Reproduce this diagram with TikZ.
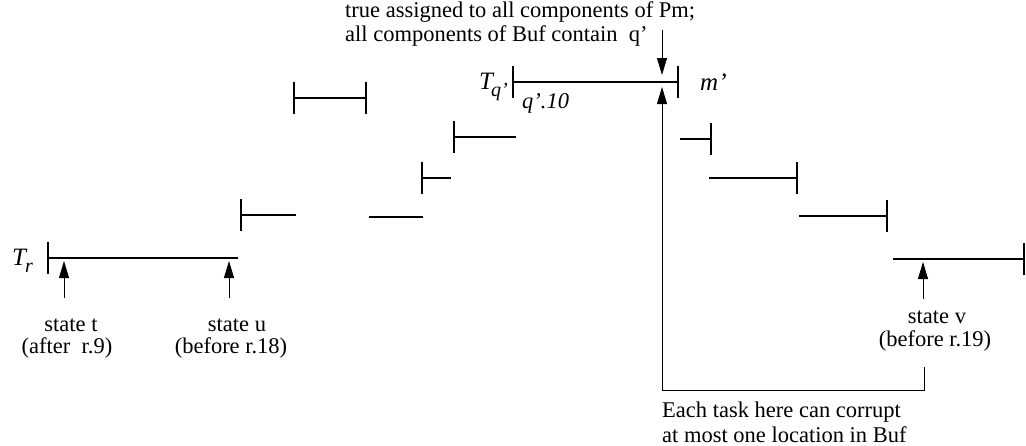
\documentclass[tikz,border=0pt]{standalone}
\usepackage{fontspec}
\setmainfont{Liberation Serif}
\usetikzlibrary{arrows.meta}
\begin{document}
\begin{tikzpicture}[x=1pt,y=-1pt,
  seg/.style={line width=1.8pt},
  thinline/.style={line width=0.9pt},
  arr/.style={thinline,-{Triangle[length=17pt,width=10pt]}},
  lbl/.style={inner sep=0pt, font=\fontsize{22.5}{24}\selectfont},
  big/.style={inner sep=0pt, font=\fontsize{25}{25}\selectfont\itshape},
]
\useasboundingbox (0,0) rectangle (1026,445);
\newcommand\tickat[1]{\draw[seg] ([yshift=16pt]#1) -- ([yshift=-16pt]#1);}

% segments
\coordinate (r0) at (48,258);   \coordinate (r1) at (238,258);
\coordinate (a0) at (241,215);  \coordinate (a1) at (296,215);
\coordinate (b0) at (369,217);  \coordinate (b1) at (423,217);
\coordinate (c0) at (422,178);  \coordinate (c1) at (451,178);
\coordinate (d0) at (454,137);  \coordinate (d1) at (516,137);
\coordinate (e0) at (294,98);   \coordinate (e1) at (366,98);
\coordinate (q0) at (513,82);   \coordinate (q1) at (678,82);
\coordinate (f0) at (680,139);  \coordinate (f1) at (711,139);
\coordinate (g0) at (709,178);  \coordinate (g1) at (797,178);
\coordinate (h0) at (799,216);  \coordinate (h1) at (887,216);
\coordinate (k0) at (893,259);  \coordinate (k1) at (1024,259);

\foreach \s in {r,a,b,c,d,e,q,f,g,h,k}{\draw[seg] (\s0) -- (\s1);}
\tickat{r0} \tickat{a0} \tickat{c0} \tickat{d0}
\tickat{e0} \tickat{e1} \tickat{q0} \tickat{q1}
\tickat{f1} \tickat{g1} \tickat{h1} \tickat{k1}

% labels of lines
\node[big, anchor=base west] (tr) at (12,265) {T\kern-1pt\raisebox{-7pt}{\fontsize{20}{20}\selectfont r}};
\node[big, anchor=base east] (tq) at (508,89) {T\kern-2pt\raisebox{-7pt}{\fontsize{20}{20}\selectfont q’}};
\node[lbl, anchor=base west, font=\fontsize{22.5}{24}\selectfont\itshape] (q10) at (522,108) {q’.10};
\node[big, anchor=base west] (mp) at (700,90) {m’};

% top text
\node[lbl, anchor=base west] (top1) at (345,17) {true assigned to all components of Pm;};
\node[lbl, anchor=base west] (top2) at (345,41) {all components of Buf contain\ \ q’};

% state arrows
\coordinate (ta) at (64,298);  \coordinate (tt) at (64,261);
\coordinate (ua) at (229,298); \coordinate (ut) at (229,261);
\coordinate (va) at (923,299); \coordinate (vt) at (923,262);
\draw[arr] (ta) -- (tt);
\draw[arr] (ua) -- (ut);
\draw[arr] (va) -- (vt);

\node[lbl, anchor=base] (st1) at (71,331) {state t};
\node[lbl, anchor=base] (st2) at (67,353) {(after\ \ r.9)};
\node[lbl, anchor=base] (su1) at (237,331) {state u};
\node[lbl, anchor=base] (su2) at (231,353) {(before r.18)};
\node[lbl, anchor=base] (sv1) at (937,323) {state v};
\node[lbl, anchor=base] (sv2) at (935,346) {(before r.19)};

% arrows at m'
\coordinate (dn0) at (662,30); \coordinate (dn1) at (662,75);
\draw[arr] (dn0) -- (dn1);
\coordinate (bv) at (924,367); \coordinate (bc2) at (924,390);
\coordinate (bc1) at (662,390); \coordinate (up1) at (662,87);
\draw[arr] (bv) -- (bc2) -- (bc1) -- (up1);

% bottom text
\node[lbl, anchor=base west] (bot1) at (662,417) {Each task here can corrupt};
\node[lbl, anchor=base west] (bot2) at (662,442) {at most one location in Buf};
\end{tikzpicture}
\end{document}
